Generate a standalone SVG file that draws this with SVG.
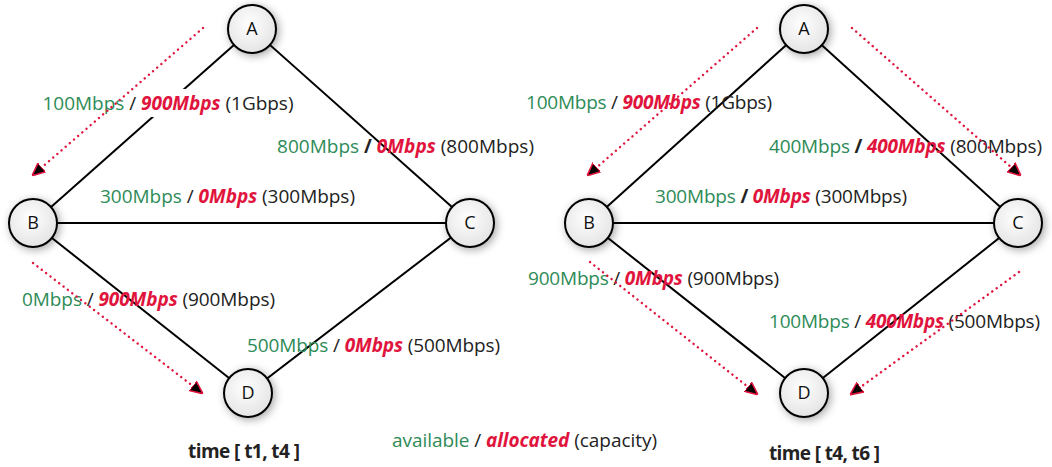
<svg xmlns="http://www.w3.org/2000/svg" width="1052" height="467" viewBox="0 0 1052 467">
<defs>
<style>
text{font-family:"Open Sans","Liberation Sans",sans-serif;font-size:19px;fill:#222}
.av{fill:#2e8b57}
.al{fill:#e0143c;font-weight:bold;font-style:italic}
.b{font-weight:bold}
.edge{stroke:#000;stroke-width:2;fill:none}
.flow{stroke:#e0143c;stroke-width:2.4;fill:none;stroke-dasharray:0.1 5.4;stroke-linecap:round;marker-end:url(#ah)}
.node circle{fill:url(#ng);stroke:#000;stroke-width:2;filter:url(#sh)}
.node text{text-anchor:middle;font-family:"Open Sans","Liberation Sans",sans-serif;font-size:18px;fill:#111}
</style>
<radialGradient id="ng" cx="0.45" cy="0.4" r="0.65">
<stop offset="0" stop-color="#ffffff"/>
<stop offset="1" stop-color="#e2e2e2"/>
</radialGradient>
<filter id="sh" x="-50%" y="-50%" width="200%" height="200%">
<feDropShadow dx="2" dy="2" stdDeviation="4" flood-color="#000" flood-opacity="0.35"/>
</filter>
<marker id="ah" viewBox="0 0 10 10" refX="9" refY="5" markerWidth="13" markerHeight="13" markerUnits="userSpaceOnUse" orient="auto">
<path d="M0,0.5 L10,5 L0,9.5 z" fill="#000" stroke="#e0143c" stroke-width="1.2"/>
</marker>
</defs>

<g id="connectors">
<line class="edge" x1="252" y1="29" x2="33" y2="223"/>
<line class="edge" x1="252" y1="29" x2="470" y2="223"/>
<line class="edge" x1="33" y1="223" x2="470" y2="223"/>
<line class="edge" x1="33" y1="223" x2="248" y2="393"/>
<line class="edge" x1="470" y1="223" x2="248" y2="393"/>
<line class="edge" x1="804" y1="29" x2="589" y2="223"/>
<line class="edge" x1="804" y1="29" x2="1018" y2="223"/>
<line class="edge" x1="589" y1="223" x2="1018" y2="223"/>
<line class="edge" x1="589" y1="223" x2="804" y2="393"/>
<line class="edge" x1="1018" y1="223" x2="804" y2="393"/>
</g>

<g id="labels">
<rect x="42" y="89" width="252" height="28" fill="#fff"/>
<text x="42.5" y="110" textLength="251"><tspan class="av">100Mbps</tspan> / <tspan class="al">900Mbps</tspan> (1Gbps)</text>
<text x="277" y="153" textLength="257"><tspan class="av">800Mbps</tspan> <tspan class="b">/</tspan> <tspan class="al">0Mbps</tspan> (800Mbps)</text>
<text x="100" y="203" textLength="255"><tspan class="av">300Mbps</tspan> / <tspan class="al">0Mbps</tspan> (300Mbps)</text>
<text x="22" y="306" textLength="253"><tspan class="av">0Mbps</tspan> / <tspan class="al">900Mbps</tspan> (900Mbps)</text>
<text x="247" y="352" textLength="253"><tspan class="av">500Mbps</tspan> / <tspan class="al">0Mbps</tspan> (500Mbps)</text>
<text x="188" y="458" class="b" textLength="112">time [ t1, t4 ]</text>
<text x="392" y="447" textLength="265"><tspan class="av">available</tspan> / <tspan class="al">allocated</tspan> (capacity)</text>

<text x="526" y="109" textLength="246"><tspan class="av">100Mbps</tspan> / <tspan class="al">900Mbps</tspan> (1Gbps)</text>
<text x="769" y="153" textLength="273"><tspan class="av">400Mbps</tspan> <tspan class="b">/</tspan> <tspan class="al">400Mbps</tspan> (800Mbps)</text>
<text x="655" y="203" textLength="252"><tspan class="av">300Mbps</tspan> <tspan class="b">/</tspan> <tspan class="al">0Mbps</tspan> (300Mbps)</text>
<text x="528" y="285" textLength="251"><tspan class="av">900Mbps</tspan> / <tspan class="al">0Mbps</tspan> (900Mbps)</text>
<text x="769" y="328" textLength="271"><tspan class="av">100Mbps</tspan> / <tspan class="al">400Mbps</tspan> (500Mbps)</text>
<text x="769" y="460" class="b" textLength="111">time [ t4, t6 ]</text>
</g>

<g id="flows">
<line class="flow" x1="203" y1="28" x2="33" y2="175"/>
<line class="flow" x1="33" y1="263" x2="202" y2="393"/>
<line class="flow" x1="757" y1="28" x2="588" y2="175"/>
<line class="flow" x1="852" y1="28" x2="1020" y2="175"/>
<line class="flow" x1="590" y1="262" x2="757" y2="394"/>
<line class="flow" x1="1019" y1="272" x2="851" y2="394"/>
</g>

<g id="nodeA1" class="node"><circle cx="252" cy="29" r="24"/><text x="252" y="35">A</text></g>
<g id="nodeB1" class="node"><circle cx="33" cy="223" r="24"/><text x="33" y="229">B</text></g>
<g id="nodeC1" class="node"><circle cx="470" cy="223" r="24"/><text x="470" y="229">C</text></g>
<g id="nodeD1" class="node"><circle cx="248" cy="393" r="24"/><text x="248" y="399">D</text></g>
<g id="nodeA2" class="node"><circle cx="804" cy="29" r="24"/><text x="804" y="35">A</text></g>
<g id="nodeB2" class="node"><circle cx="589" cy="223" r="24"/><text x="589" y="229">B</text></g>
<g id="nodeC2" class="node"><circle cx="1018" cy="223" r="24"/><text x="1018" y="229">C</text></g>
<g id="nodeD2" class="node"><circle cx="804" cy="393" r="24"/><text x="804" y="399">D</text></g>
</svg>
